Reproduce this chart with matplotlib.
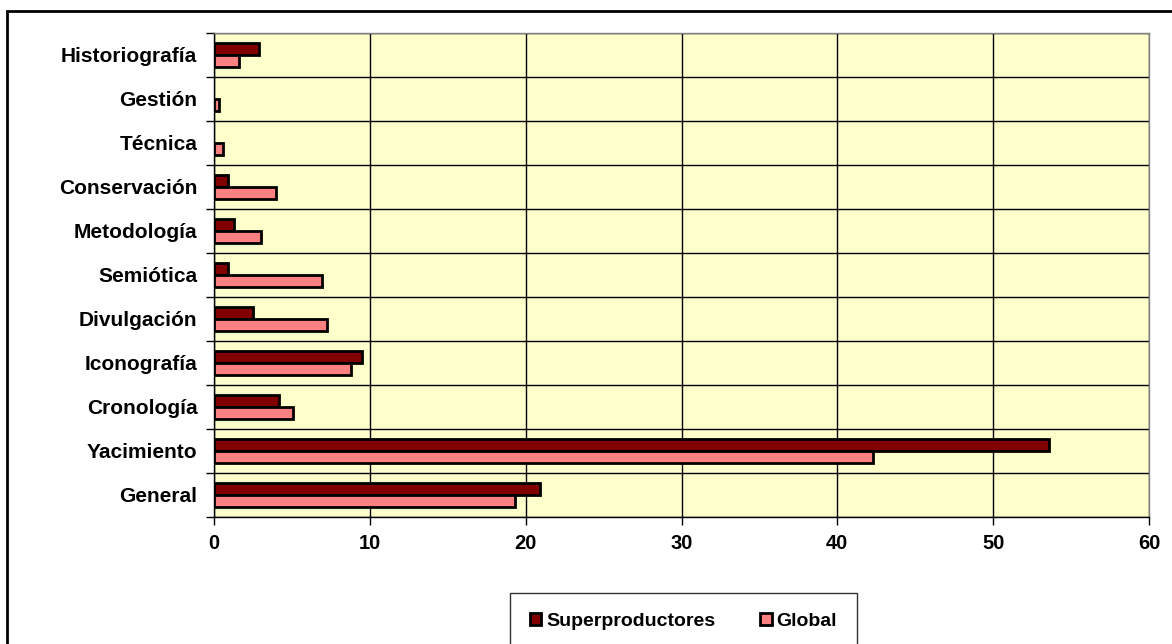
import numpy as np
import matplotlib
matplotlib.use("Agg")
import matplotlib.pyplot as plt
from matplotlib.patches import Rectangle

plt.rcParams['font.family'] = ['Liberation Sans', 'DejaVu Sans']
plt.rcParams['font.weight'] = 'bold'

categories = ['General', 'Yacimiento', 'Cronología', 'Iconografía', 'Divulgación',
              'Semiótica', 'Metodología', 'Conservación', 'Técnica', 'Gestión',
              'Historiografía']
superproductores = [20.9, 53.6, 4.2, 9.5, 2.5, 0.9, 1.3, 0.9, 0.0, 0.0, 2.9]
global_vals = [19.3, 42.3, 5.1, 8.8, 7.25, 6.9, 3.0, 4.0, 0.6, 0.3, 1.6]

W, H = 1172, 644
fig = plt.figure(figsize=(W / 100, H / 100), dpi=100)
ax = fig.add_axes([214 / W, 1 - 517 / H, (1149 - 214) / W, (517 - 33) / H])
ax.set_facecolor('#FFFFCC')

y = np.arange(len(categories))
h = 0.28
# no outline for zero-length bars
lw_s = [2 if v > 0 else 0 for v in superproductores]
lw_g = [2 if v > 0 else 0 for v in global_vals]
ax.barh(y + h / 2, superproductores, height=h, color='#800000', edgecolor='black',
        linewidth=lw_s, label='Superproductores', zorder=3)
ax.barh(y - h / 2, global_vals, height=h, color='#FF8080', edgecolor='black',
        linewidth=lw_g, label='Global', zorder=3)

ax.set_xlim(0, 60)
ax.set_ylim(-0.5, len(categories) - 0.5)
ax.set_xticks(np.arange(0, 61, 10))
ax.set_yticks(y)
ax.set_yticklabels(categories)
ax.set_yticks(np.arange(-0.5, len(categories), 1), minor=True)
ax.tick_params(axis='y', which='major', length=0, pad=12, labelsize=15)
ax.tick_params(axis='y', which='minor', length=6, width=1, direction='out')
ax.tick_params(axis='x', length=6, width=1, direction='out', labelsize=14.5, pad=6)
ax.grid(axis='x', which='major', color='black', linewidth=1, zorder=1)
ax.grid(axis='y', which='minor', color='black', linewidth=1, zorder=1)
for s in ax.spines.values():
    s.set_color('#808080')
    s.set_linewidth(1)
ax.spines['left'].set_color('black')
ax.spines['bottom'].set_color('black')

leg = ax.legend(loc='center', bbox_to_anchor=((683.5 - 214) / (1149 - 214), -0.215),
                ncol=2, frameon=True, fancybox=False, fontsize=14,
                handlelength=0.6, handleheight=0.6, handletextpad=0.25,
                columnspacing=2.3, borderpad=1.0, borderaxespad=0)
leg.get_frame().set_edgecolor('black')
leg.get_frame().set_linewidth(1)

fig.patches.append(Rectangle((7 / W, -0.1), 1.2, 1 - 11 / H + 0.1, transform=fig.transFigure,
                             fill=False, edgecolor='black', linewidth=2))

fig.savefig('out.png', dpi=100)
